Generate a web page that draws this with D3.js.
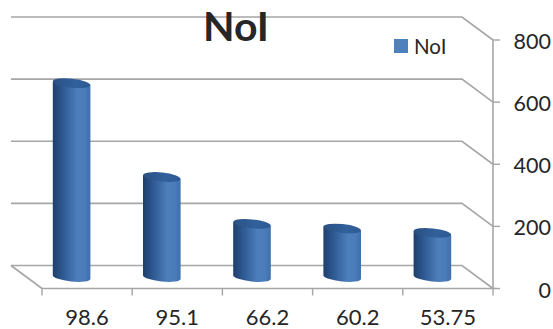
<!DOCTYPE html>
<html>
<head>
<meta charset="utf-8">
<script src="https://cdn.jsdelivr.net/npm/d3@7"></script>
<style>
html, body { margin: 0; padding: 0; background: #fff; }
svg { display: block; }
text { font-family: Lato, "Open Sans", sans-serif; fill: #262626; }
</style>
</head>
<body>
<svg id="chart" width="553" height="329"></svg>
<script>
// Series and axis content
const chartTitle = "NoI";
const seriesName = "NoI";
const categories = ["98.6", "95.1", "66.2", "60.2", "53.75"];
const values = [624, 322, 171, 156, 142];
const yTicks = [0, 200, 400, 600, 800];

const svg = d3.select("#chart");

// Plot frame: front edge of the floor plus the offset of the back wall
const front = { left: 42, right: 493, top: 40, bottom: 288.5 };
const depth = { dx: -31, dy: -23 };
const gridColor = "#a6a6a6";

const x = d3.scaleBand().domain(categories).range([front.left, front.right]);
const y = d3.scaleLinear().domain([0, 800]).range([front.bottom, front.top]);

// Cylinder shading, dark on the left and brightest right of centre
const defs = svg.append("defs");
const bodyGrad = defs.append("linearGradient").attr("id", "cylBody");
[[0, "#1f3f6d"], [0.3, "#305c96"], [0.65, "#4d7fbc"], [0.85, "#4a7cb9"], [1, "#3f6fac"]]
  .forEach(([o, c]) => bodyGrad.append("stop").attr("offset", o).attr("stop-color", c));
const capGrad = defs.append("linearGradient").attr("id", "cylCap");
[[0, "#2a5084"], [0.6, "#32609b"], [1, "#2d5a94"]]
  .forEach(([o, c]) => capGrad.append("stop").attr("offset", o).attr("stop-color", c));

// Back wall gridlines and their slanted returns to the value axis
const grid = svg.append("g").attr("fill", "none").attr("stroke", gridColor).attr("stroke-width", 1.6);
grid.selectAll("path").data(yTicks).join("path")
  .attr("d", d => d3.line()([
    [front.left + depth.dx, y(d) + depth.dy],
    [front.right + depth.dx, y(d) + depth.dy],
    [front.right, y(d)]
  ]));

// Floor: left slanted edge
grid.append("path").attr("d", d3.line()([
  [front.left + depth.dx, front.bottom + depth.dy],
  [front.left, front.bottom]
]));

// Category axis along the front of the floor
const xAxisG = svg.append("g");
xAxisG.append("line")
  .attr("x1", front.left).attr("x2", front.right + 2)
  .attr("y1", front.bottom).attr("y2", front.bottom)
  .attr("stroke", gridColor).attr("stroke-width", 1.6);
const edges = categories.map(c => x(c)).concat(front.right);
xAxisG.selectAll("line.tick").data(edges).join("line").attr("class", "tick")
  .attr("x1", d => d).attr("x2", d => d)
  .attr("y1", front.bottom).attr("y2", front.bottom + 7)
  .attr("stroke", gridColor).attr("stroke-width", 1.4);
xAxisG.selectAll("text").data(categories).join("text")
  .attr("x", d => x(d) + x.bandwidth() / 2)
  .attr("y", 325)
  .attr("text-anchor", "middle")
  .attr("font-size", 22)
  .text(d => d);

// Value axis on the right
const yAxisG = svg.append("g");
yAxisG.append("line")
  .attr("x1", front.right).attr("x2", front.right)
  .attr("y1", front.top).attr("y2", front.bottom)
  .attr("stroke", gridColor).attr("stroke-width", 1.6);
yAxisG.selectAll("line.tick").data(yTicks).join("line").attr("class", "tick")
  .attr("x1", front.right).attr("x2", front.right + 7)
  .attr("y1", d => y(d)).attr("y2", d => y(d))
  .attr("stroke", gridColor).attr("stroke-width", 1.4);
yAxisG.selectAll("text").data(yTicks).join("text")
  .attr("x", 551)
  .attr("y", d => y(d) + 9)
  .attr("text-anchor", "end")
  .attr("font-size", 21.5)
  .text(d => d);

// Cylinders stand in the middle of the floor depth; their ends are tilted ellipses
const rx = 18.8, ry = 4.5, tilt = 6;
const endDy = rx * Math.sin(tilt * Math.PI / 180);
const bars = svg.append("g").selectAll("g").data(categories).join("g")
  .attr("transform", c => `translate(${x(c) + x.bandwidth() / 2 + depth.dx / 2},${depth.dy / 2})`);

bars.append("path")
  .attr("fill", "url(#cylBody)")
  .attr("d", (c, i) => {
    const top = y(values[i]), base = y(0);
    return `M${-rx},${top - endDy} L${-rx},${base - endDy} A${rx},${ry} ${tilt} 0 0 ${rx},${base + endDy} L${rx},${top + endDy} Z`;
  });

bars.append("ellipse")
  .attr("rx", rx).attr("ry", ry)
  .attr("fill", "url(#cylCap)")
  .attr("transform", (c, i) => `translate(0,${y(values[i])}) rotate(${tilt})`);

// Title and legend
svg.append("text")
  .attr("x", 236).attr("y", 41)
  .attr("text-anchor", "middle")
  .attr("font-size", 41).attr("font-weight", 700)
  .attr("fill", "#1c1c1c")
  .text(chartTitle);

const legend = svg.append("g");
legend.append("rect")
  .attr("x", 394).attr("y", 39).attr("width", 14).attr("height", 14)
  .attr("fill", "#4f81bd");
legend.append("text")
  .attr("x", 414).attr("y", 53.5)
  .attr("font-size", 20.5)
  .text(seriesName);
</script>
</body>
</html>
